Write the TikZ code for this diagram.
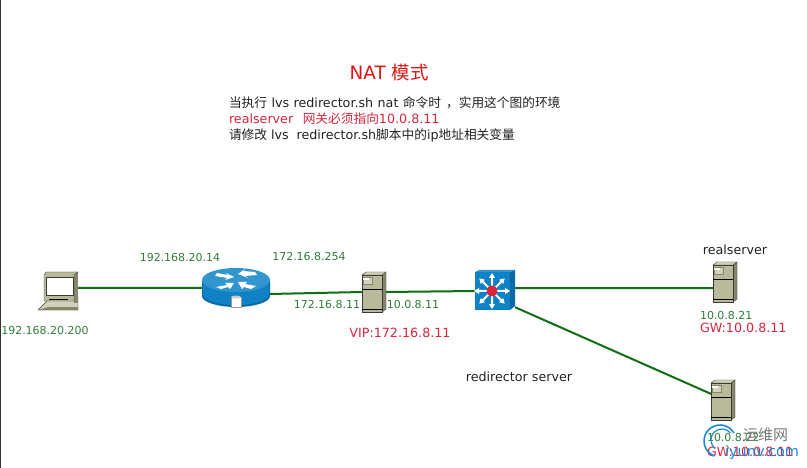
\documentclass[tikz,border=0pt]{standalone}
\usepackage{fontspec}
\setmainfont{DejaVu Sans}
\newfontfamily\cjk{Noto Sans CJK SC}
\definecolor{lnk}{HTML}{0E6E12}
\definecolor{lbl}{HTML}{2F7D3A}
\definecolor{alert}{HTML}{D9263C}
\definecolor{titlered}{HTML}{DD1515}
\definecolor{ink}{HTML}{222222}
\definecolor{ciscoblue}{HTML}{0E82C4}
\definecolor{ciscodark}{HTML}{0B6AA6}
\definecolor{beige}{HTML}{B9B99C}
\definecolor{beigedark}{HTML}{86866C}
\definecolor{beigelight}{HTML}{D2D2BC}
\definecolor{outl}{HTML}{3C3C30}
\definecolor{wmblue}{HTML}{1E88D8}
\definecolor{wmgray}{HTML}{777777}
\tikzset{
  x=1pt,y=-1pt,
  hot/.style={rectangle,inner sep=0pt,outer sep=0pt,draw=none},
  wire/.style={draw=lnk,line width=2pt},
  txt/.style={inner sep=0pt,outer sep=0pt,font=\fontsize{11}{13}\selectfont},
  big/.style={font=\fontsize{12.7}{15}\selectfont},
  ip/.style={txt,text=lbl},
  warn/.style={txt,big,text=alert},
  plain/.style={txt,big,text=ink},
  srvicon/.pic={
    \fill[beigedark,draw=outl,line width=.4pt] (8,-17)--(12,-20)--(12,17)--(8,20)--cycle;
    \fill[beigelight,draw=outl,line width=.4pt] (-12,-17)--(-8,-20)--(12,-20)--(8,-17)--cycle;
    \fill[beige,draw=outl,line width=.5pt] (-12,-17) rectangle (8,20);
    \draw[black,line width=.8pt] (-12,-3)--(8,-3);
    \draw[black,line width=.6pt] (-12,17)--(8,17);
    \fill[beigelight,draw=beigedark,line width=.4pt] (-11,-15) rectangle (-2,-8);
    \fill[white] (-11,-14) rectangle (-5,-12);
  },
  rarrow/.pic={
    \fill[white] (5,-1)--(13,-1)--(13,-3)--(18,0)--(13,3)--(13,1)--(5,1)--cycle;
  }
}
\begin{document}
\begin{tikzpicture}
\useasboundingbox (0,0) rectangle (807,468);
\fill[white] (0,0) rectangle (807,468);
\draw[black!80,line width=1pt] (0.5,0)--(0.5,468);
% hit areas
\node[hot,minimum width=40pt,minimum height=40pt] (laptop) at (58,291) {};
\node[hot,minimum width=68pt,minimum height=40pt] (router) at (236,288) {};
\node[hot,minimum width=24pt,minimum height=40pt] (dir) at (374,292) {};
\node[hot,minimum width=40pt,minimum height=40pt] (switch) at (495,291) {};
\node[hot,minimum width=24pt,minimum height=40pt] (real1) at (725,282) {};
\node[hot,minimum width=24pt,minimum height=40pt] (real2) at (723,400) {};
% connectors
\draw[wire] (laptop.9) -- (router.west);
\draw[wire] (router.-10) -- (dir.west);
\draw[wire] (dir.east) -- (switch.west);
\draw[wire] (switch.8) -- (real1.207);
\draw[wire] (switch.-39) -- (real2.153);
% laptop
\begin{scope}[shift={(58,291)}]
  \fill[beigelight,draw=outl,line width=.4pt] (-20,19)--(-10,9)--(20,6)--(20,19)--cycle;
  \fill[beigedark] (-10,16)--(20,16)--(20,19)--(-20,19)--cycle;
  \fill[beigedark] (16,-19)--(20,-19)--(20,12)--(16,12)--cycle;
  \fill[beige,draw=outl,line width=.4pt] (-14,-16)--(-12,-19)--(20,-19)--(16,-16)--(16,10)--(-14,10)--cycle;
  \fill[white,draw=outl,line width=.5pt] (-12,-14) rectangle (15,4);
  \draw[black,line width=.8pt] (-9,8)--(10,8);
\end{scope}
% router
\begin{scope}[shift={(236,288)}]
  \fill[ciscodark] (-34,-8) -- (-34,8) arc[start angle=180,end angle=0,x radius=34,y radius=11] -- (34,-8) -- cycle;
  \fill[ciscoblue] (-33,-8) -- (-33,6) arc[start angle=180,end angle=0,x radius=33,y radius=11] -- (33,-8) -- cycle;
  \fill[ciscoblue!85!white] (0,-8) ellipse[x radius=34,y radius=12];
  \fill[white] (-19,-15)--(-8,-13)--(-10,-15)--(-2,-11)--(-11,-8)--(-9,-10)--(-21,-12)--cycle;
  \fill[white] (19,-16)--(7,-17)--(9,-19)--(2,-14)--(12,-10)--(9,-12)--(21,-13)--cycle;
  \fill[white] (-20,-1)--(-9,-3)--(-11,-5)--(-2,-5)--(-6,1)--(-8,-1)--(-15,1)--cycle;
  \fill[white] (20,-2)--(9,-4)--(11,-6)--(2,-6)--(6,1)--(8,-1)--(15,1)--cycle;
  \fill[white,draw=black!40,line width=.3pt] (-5,9) rectangle (5,19);
  \fill[black!20] (0,9) ellipse[x radius=5,y radius=1.5];
\end{scope}
% directors / servers
\pic at (374,292) {srvicon};
\pic at (725,282) {srvicon};
\pic at (723,400) {srvicon};
% switch
\begin{scope}[shift={(492,291)}]
  \fill[ciscodark] (18,-19)--(23,-21)--(23,15)--(18,19)--cycle;
  \fill[ciscoblue!85!white] (-17,-19)--(-13,-21)--(23,-21)--(18,-19)--cycle;
  \fill[ciscoblue] (-17,-19) rectangle (18,19);
  \foreach \a in {0,45,...,315} \pic[rotate=\a] {rarrow};
  \fill[alert] (0,0) circle[radius=5.5];
\end{scope}
% title and text
\node[txt,text=titlered,font=\fontsize{18.4}{20}\selectfont,anchor=center] (title) at (389,73) {NAT {\cjk 模式}};
\node[plain,anchor=west] (l1) at (229,103) {{\cjk 当执行}\hspace{.35em}lvs\hspace{.35em}redirector.sh\hspace{.35em}nat\hspace{.35em}{\cjk 命令时\hspace{.4em}，实用这个图的环境}};
\node[warn,anchor=west] (l2) at (229,119) {realserver\hspace{.75em}{\cjk 网关必须指向}10.0.8.11};
\node[plain,anchor=west] (l3) at (229,135) {{\cjk 请修改} lvs\hspace{.3em} redirector.sh{\cjk 脚本中的}ip{\cjk 地址相关变量}};
% labels
\node[ip] (a1) at (180,257) {192.168.20.14};
\node[ip] (a2) at (309,256) {172.16.8.254};
\node[ip] (a3) at (45,330) {192.168.20.200};
\node[ip] (a4) at (327,304) {172.16.8.11};
\node[ip] (a5) at (413,304) {10.0.8.11};
\node[warn] (a6) at (400,333) {VIP:172.16.8.11};
\node[plain] (a7) at (519,377) {redirector server};
\node[plain] (a8) at (735,250) {realserver};
\node[ip,anchor=west] (a9) at (700,315) {10.0.8.21};
\node[warn,anchor=west] (a10) at (700,328) {GW:10.0.8.11};
\node[ip,anchor=west] (a11) at (707,437) {10.0.8.22};
\node[warn,anchor=west] (a12) at (707,452) {GW:10.0.8.11};
% watermark
\draw[wmblue,line width=1.6pt] (733.9,433) arc[start angle=-30,end angle=-250,radius=16];
\draw[wmblue,line width=1.2pt] (730.4,432.9) arc[start angle=-40,end angle=-230,radius=11];
\node[txt,text=wmgray,font=\fontsize{15}{17}\selectfont\cjk,anchor=west] (w1) at (743,435) {运维网};
\node[txt,text=wmblue,font=\fontsize{14.5}{17}\selectfont,anchor=west] (w2) at (725,452) {iyunv.com};
\end{tikzpicture}
\end{document}
